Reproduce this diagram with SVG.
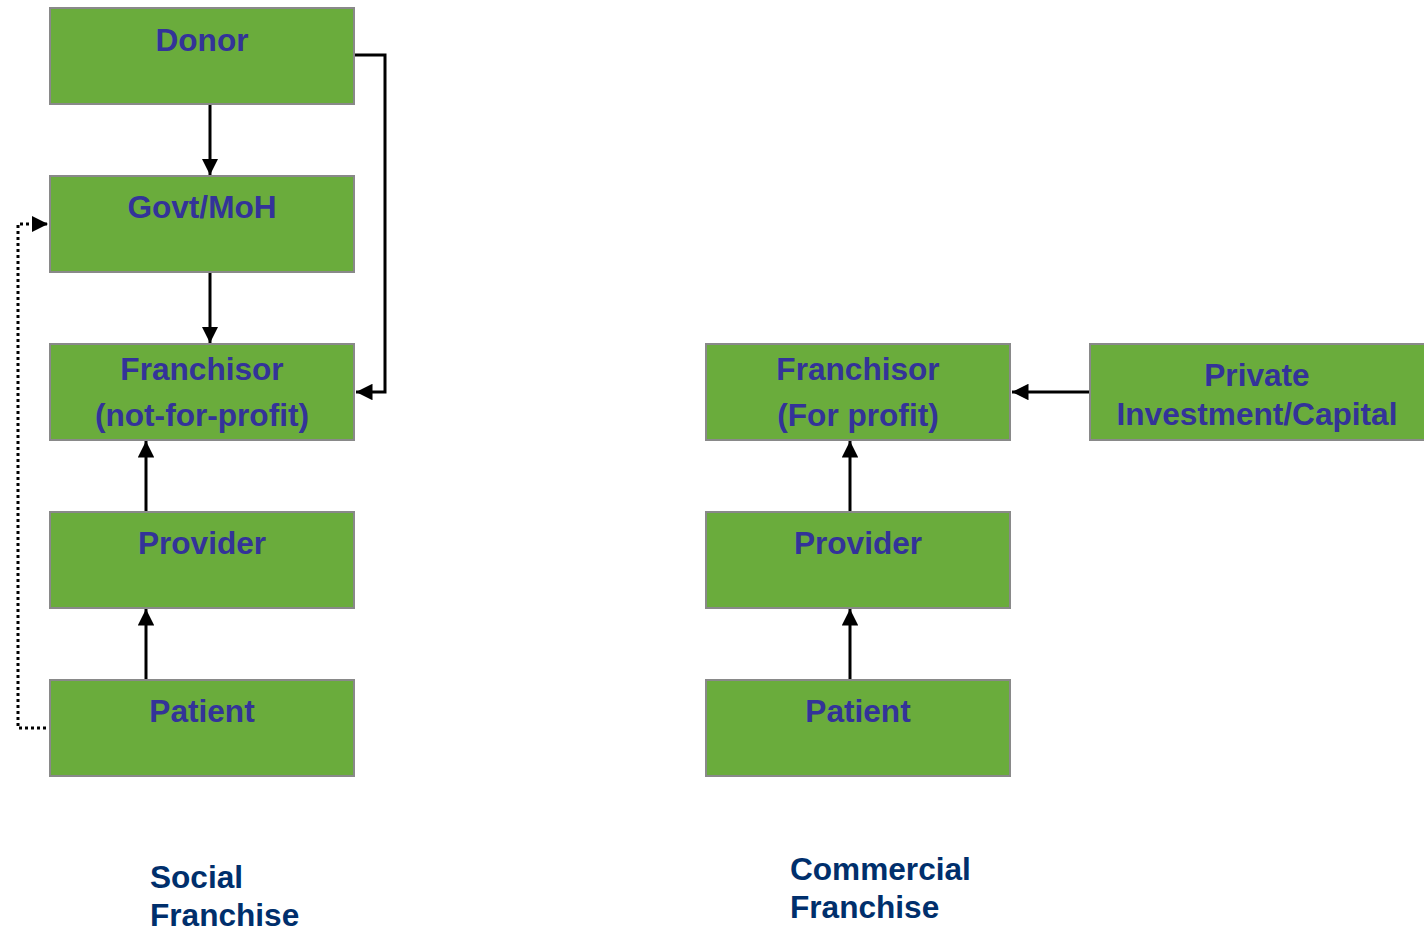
<svg xmlns="http://www.w3.org/2000/svg" width="1424" height="932" viewBox="0 0 1424 932">
<style>
.box{fill:#6aac3c;stroke:#898989;stroke-width:2}
.t{font-family:"Liberation Sans",Arial,sans-serif;font-weight:bold;font-size:31.6px;fill:#333399;text-anchor:middle}
.lbl{font-family:"Liberation Sans",Arial,sans-serif;font-weight:bold;font-size:31.6px;fill:#002f6c}
.c{fill:none;stroke:#000;stroke-width:3}
.d{fill:none;stroke:#000;stroke-width:3;stroke-dasharray:3 3}
</style>
<defs>
<marker id="ah" viewBox="0 0 10 10" refX="10" refY="5" markerWidth="5.5" markerHeight="5.5" markerUnits="strokeWidth" orient="auto">
<path d="M0,0 L10,5 L0,10 z" fill="#000"/>
</marker>
</defs>
<rect width="1424" height="932" fill="#fff"/>
<g id="connectors">
<line class="c" x1="210" y1="104" x2="210" y2="175" marker-end="url(#ah)"/>
<line class="c" x1="210" y1="272" x2="210" y2="343" marker-end="url(#ah)"/>
<line class="c" x1="146" y1="512" x2="146" y2="441" marker-end="url(#ah)"/>
<line class="c" x1="146" y1="680" x2="146" y2="609" marker-end="url(#ah)"/>
<polyline class="c" points="355,55 385,55 385,392 356,392" marker-end="url(#ah)"/>
<polyline class="d" points="46,728 18,728 18,224 48,224" marker-end="url(#ah)"/>
<line class="c" x1="850" y1="512" x2="850" y2="441" marker-end="url(#ah)"/>
<line class="c" x1="850" y1="680" x2="850" y2="609" marker-end="url(#ah)"/>
<line class="c" x1="1090" y1="392" x2="1012" y2="392" marker-end="url(#ah)"/>
</g>
<g id="donor"><rect class="box" x="50" y="8" width="304" height="96"/><text class="t" x="202" y="51">Donor</text></g>
<g id="govt"><rect class="box" x="50" y="176" width="304" height="96"/><text class="t" x="202" y="218">Govt/MoH</text></g>
<g id="franchisor-nfp"><rect class="box" x="50" y="344" width="304" height="96"/><text class="t" x="202" y="380">Franchisor</text><text class="t" x="202" y="426">(not-for-profit)</text></g>
<g id="provider-l"><rect class="box" x="50" y="512" width="304" height="96"/><text class="t" x="202" y="554">Provider</text></g>
<g id="patient-l"><rect class="box" x="50" y="680" width="304" height="96"/><text class="t" x="202" y="722">Patient</text></g>
<g id="franchisor-fp"><rect class="box" x="706" y="344" width="304" height="96"/><text class="t" x="858" y="380">Franchisor</text><text class="t" x="858" y="426">(For profit)</text></g>
<g id="provider-r"><rect class="box" x="706" y="512" width="304" height="96"/><text class="t" x="858" y="554">Provider</text></g>
<g id="patient-r"><rect class="box" x="706" y="680" width="304" height="96"/><text class="t" x="858" y="722">Patient</text></g>
<g id="private"><rect class="box" x="1090" y="344" width="340" height="96"/><text class="t" x="1257" y="386">Private</text><text class="t" x="1257" y="425">Investment/Capital</text></g>
<g id="labels">
<text class="lbl" x="150" y="888">Social</text>
<text class="lbl" x="150" y="926">Franchise</text>
<text class="lbl" x="790" y="880">Commercial</text>
<text class="lbl" x="790" y="918">Franchise</text>
</g>
</svg>
